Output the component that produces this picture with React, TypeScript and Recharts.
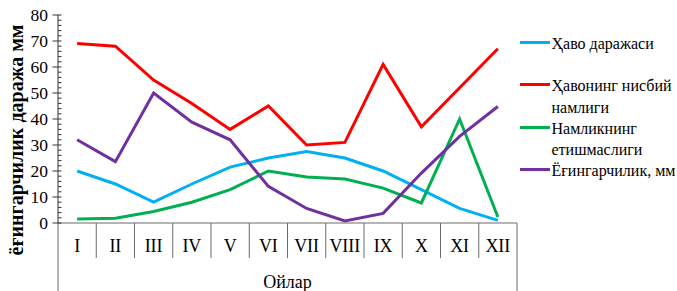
import React from "react";
import { LineChart, Line, XAxis, YAxis } from "recharts";

const months = ["I", "II", "III", "IV", "V", "VI", "VII", "VIII", "IX", "X", "XI", "XII"];
const airTemp = [20, 15, 8, 15, 21.5, 25, 27.5, 25, 20, 12.8, 5.6, 1];
const humidity = [69, 68, 55, 46, 36, 45, 30, 31, 61, 37, 52, 67];
const moistureDeficit = [1.5, 1.8, 4.4, 8, 12.8, 20, 17.7, 16.9, 13.4, 7.7, 40, 2.3];
const precipitation = [32, 23.6, 50, 38.8, 32, 14.1, 5.6, 0.8, 3.7, 19.2, 33.3, 44.8];
const yTicks = [0, 2, 4, 6, 8, 10, 12, 14, 16, 18, 20, 22, 24, 26, 28, 30, 32, 34, 36, 38, 40, 42, 44, 46, 48, 50, 52, 54, 56, 58, 60, 62, 64, 66, 68, 70, 72, 74, 76, 78, 80];

const series = [
  { key: "airTemp", name: "Ҳаво даражаси", lines: ["Ҳаво даражаси"], color: "#00B0F0", values: airTemp },
  { key: "humidity", name: "Ҳавонинг нисбий намлиги", lines: ["Ҳавонинг нисбий", "намлиги"], color: "#FF0000", values: humidity },
  { key: "deficit", name: "Намликнинг етишмаслиги", lines: ["Намликнинг", "етишмаслиги"], color: "#00B050", values: moistureDeficit },
  { key: "precip", name: "Ёғингарчилик, мм", lines: ["Ёғингарчилик, мм"], color: "#7030A0", values: precipitation },
];

const data = months.map((m, i) => {
  const row: any = { month: m };
  series.forEach((s) => (row[s.key] = s.values[i]));
  return row;
});

const W = 677;
const H = 291;
const M = { top: 15, right: 160, left: 18, bottom: 38 };
const Y_W = 40;
const X_H = 30;
const PLOT_W = W - M.left - Y_W - M.right;
const BAND = PLOT_W / months.length;
const FONT = '"Liberation Serif", Tinos, "Times New Roman", "DejaVu Serif", serif';
const AXIS_COLOR = "#6b6b6b";

const YTick = (props: any) => {
  const { x, y, payload } = props;
  const v = payload.value;
  const major = v % 10 === 0;
  return (
    <g>
      <line x1={major ? x - 5.5 : x} x2={x + 3.5} y1={y} y2={y} stroke="#333" strokeWidth={1} />
      {major && (
        <text x={x - 10} y={y} dy="0.36em" textAnchor="end" style={{ fontFamily: FONT }} fontSize={17.5} fill="#000">
          {v}
        </text>
      )}
    </g>
  );
};

const XTick = (props: any) => {
  const { x, y, payload, index } = props;
  const last = index === months.length - 1;
  const left = x - BAND / 2;
  const right = x + BAND / 2;
  return (
    <g>
      <line x1={left} x2={left} y1={y} y2={index === 0 ? H : y + 35} stroke={AXIS_COLOR} strokeWidth={1} />
      {last && <line x1={right} x2={right} y1={y} y2={H} stroke={AXIS_COLOR} strokeWidth={1} />}
      <text x={x} y={y + 28.5} textAnchor="middle" style={{ fontFamily: FONT }} fontSize={18} fill="#000">
        {payload.value}
      </text>
    </g>
  );
};

const XLabel = (props: any) => {
  const vb = props.viewBox || {};
  return (
    <text x={vb.x + vb.width / 2} y={287.5} textAnchor="middle" style={{ fontFamily: FONT }} fontSize={18} fill="#000">
      Ойлар
    </text>
  );
};

const YLabel = (props: any) => {
  const vb = props.viewBox || {};
  const cx = vb.x - 2.5;
  const cy = vb.y + vb.height / 2 + 21;
  return (
    <text
      x={cx}
      y={cy}
      transform={`rotate(-90 ${cx} ${cy})`}
      textAnchor="middle"
      dominantBaseline="central"
      style={{ fontFamily: FONT }}
      fontWeight="bold"
      fontSize={20}
      fill="#000"
    >
      ёғингарчилик даража мм
    </text>
  );
};

const LegendBox = () => (
  <div style={{ position: "absolute", left: 520, top: 32.8, width: 157, fontFamily: FONT, fontSize: 16, color: "#000" }}>
    {series.map((s) => (
      <div key={s.key} style={{ position: "relative", height: 42.5, lineHeight: "21.5px", paddingLeft: 31.5, whiteSpace: "nowrap" }}>
        <div style={{ position: "absolute", left: 0, top: 8.2, width: 30, height: 3, background: s.color }} />
        {s.lines.map((l, i) => (
          <div key={i}>{l}</div>
        ))}
      </div>
    ))}
  </div>
);

export default function App() {
  return (
    <div style={{ position: "absolute", left: 0, top: 0, width: W, height: H, background: "#fff", fontFamily: FONT }}>
      <LineChart width={W} height={H} data={data} margin={M}>
        <XAxis
          dataKey="month"
          height={X_H}
          tickLine={false}
          tickSize={0}
          tickMargin={0}
          padding={{ left: BAND / 2, right: BAND / 2 }}
          axisLine={{ stroke: AXIS_COLOR, strokeWidth: 1 }}
          tick={<XTick />}
          interval={0}
          label={<XLabel />}
        />
        <YAxis
          width={Y_W}
          domain={[0, 80]}
          ticks={yTicks}
          interval={0}
          tickLine={false}
          tickSize={0}
          tickMargin={0}
          axisLine={{ stroke: "#333", strokeWidth: 1 }}
          tick={<YTick />}
          label={<YLabel />}
          allowDataOverflow
        />
        {series.map((s) => (
          <Line
            key={s.key}
            dataKey={s.key}
            name={s.name}
            stroke={s.color}
            strokeWidth={3}
            dot={false}
            activeDot={false}
            type="linear"
            isAnimationActive={false}
          />
        ))}
      </LineChart>
      <LegendBox />
    </div>
  );
}
